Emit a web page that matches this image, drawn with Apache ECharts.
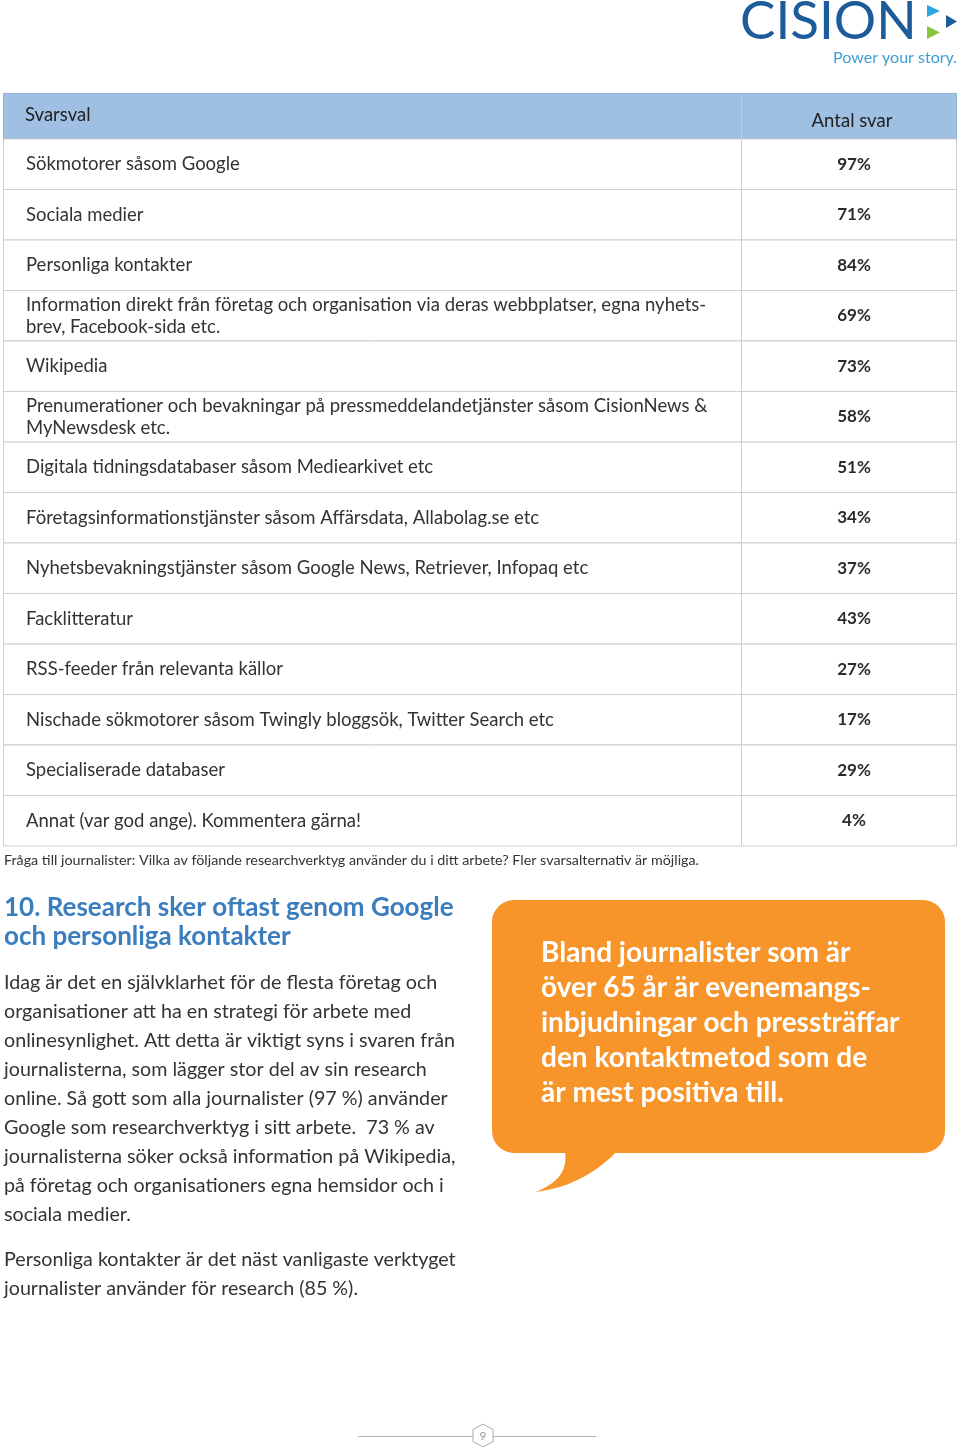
<!DOCTYPE html>
<html>
<head>
<meta charset="utf-8">
<script src="https://cdn.jsdelivr.net/npm/echarts@6/dist/echarts.min.js"></script>
<style>
  html, body { margin: 0; padding: 0; background: #ffffff; }
  #chart { width: 960px; height: 1450px; }
</style>
</head>
<body>
<div id="chart"></div>
<script>
// svarsalternativ (rader i tabellen)
const answers = [
  'Sökmotorer såsom Google',
  'Sociala medier',
  'Personliga kontakter',
  'Information direkt från företag och organisation via deras webbplatser, egna nyhets-\nbrev, Facebook-sida etc.',
  'Wikipedia',
  'Prenumerationer och bevakningar på pressmeddelandetjänster såsom CisionNews &\nMyNewsdesk etc.',
  'Digitala tidningsdatabaser såsom Mediearkivet etc',
  'Företagsinformationstjänster såsom Affärsdata, Allabolag.se etc',
  'Nyhetsbevakningstjänster såsom Google News, Retriever, Infopaq etc',
  'Facklitteratur',
  'RSS-feeder från relevanta källor',
  'Nischade sökmotorer såsom Twingly bloggsök, Twitter Search etc',
  'Specialiserade databaser',
  'Annat (var god ange). Kommentera gärna!'
]
// andel journalister (%)
const shares = [97, 71, 84, 69, 73, 58, 51, 34, 37, 43, 27, 17, 29, 4]
const headers = ['Svarsval', 'Antal svar']

const FONT = 'Lato, "Open Sans", sans-serif'
const TEXT = '#333333'
const LINE = '#cfcfcf'
const ORANGE = '#f7952b'

const chart = echarts.init(document.getElementById('chart'))

const bodyText = [
  'Idag är det en självklarhet för de flesta företag och',
  'organisationer att ha en strategi för arbete med',
  'onlinesynlighet. Att detta är viktigt syns i svaren från',
  'journalisterna, som lägger stor del av sin research',
  'online. Så gott som alla journalister (97 %) använder',
  'Google som researchverktyg i sitt arbete.  73 % av',
  'journalisterna söker också information på Wikipedia,',
  'på företag och organisationers egna hemsidor och i',
  'sociala medier.'
].join('\n')

// pratbubblans svans, punkter längs två bezierkurvor
function bezier (p0, p1, p2, p3, n) {
  const pts = []
  for (let i = 0; i <= n; i++) {
    const t = i / n
    const u = 1 - t
    pts.push([
      u * u * u * p0[0] + 3 * u * u * t * p1[0] + 3 * u * t * t * p2[0] + t * t * t * p3[0],
      u * u * u * p0[1] + 3 * u * u * t * p1[1] + 3 * u * t * t * p2[1] + t * t * t * p3[1]
    ])
  }
  return pts
}
const tail = bezier([564, 1148], [570, 1170], [557, 1184], [535, 1192], 16)
  .concat(bezier([535, 1192], [572, 1188], [600, 1170], [620, 1148], 16))

const option = {
  backgroundColor: '#ffffff',
  animation: false,
  grid: { left: 3, right: 3, top: 139, height: 707 },
  xAxis: { type: 'value', min: 0, max: 100, show: false },
  yAxis: { type: 'category', data: answers, inverse: true, show: false },
  series: [
    {
      type: 'custom',
      data: shares.map((v, i) => [v, i]),
      encode: { x: 0, y: 1 },
      renderItem: function (params, api) {
        const idx = api.value(1)
        const yc = api.coord([0, idx])[1]
        const h = api.size([0, 1])[1]
        const cs = params.coordSys
        const left = cs.x + 0.5
        const right = cs.x + cs.width - 0.5
        const mid = 741.5
        const top = yc - h / 2
        return {
          type: 'group',
          children: [
            {
              type: 'rect',
              shape: { x: left, y: top, width: mid - left, height: h },
              style: { fill: '#ffffff', stroke: LINE, lineWidth: 1 }
            },
            {
              type: 'rect',
              shape: { x: mid, y: top, width: right - mid, height: h },
              style: { fill: '#ffffff', stroke: LINE, lineWidth: 1 }
            },
            {
              type: 'text',
              x: 26,
              y: yc,
              style: {
                text: answers[idx],
                font: '18.5px ' + FONT,
                fill: TEXT,
                lineHeight: 22,
                verticalAlign: 'middle'
              }
            },
            {
              type: 'text',
              x: 854,
              y: yc,
              style: {
                text: api.value(0) + '%',
                font: 'bold 17px ' + FONT,
                fill: '#2b2b2b',
                align: 'center',
                verticalAlign: 'middle'
              }
            }
          ]
        }
      }
    }
  ],
  graphic: [
    // rubrikrad
    {
      type: 'rect',
      shape: { x: 3.5, y: 93.5, width: 953, height: 45.5 },
      style: { fill: '#9fc0e2', stroke: '#8cb0d6', lineWidth: 1 }
    },
    {
      type: 'line',
      shape: { x1: 741.5, y1: 93.5, x2: 741.5, y2: 139 },
      style: { stroke: '#b7d0ea', lineWidth: 1 }
    },
    {
      type: 'text', x: 25, y: 115,
      style: { text: headers[0], font: '18.5px ' + FONT, fill: '#222', verticalAlign: 'middle' }
    },
    {
      type: 'text', x: 852, y: 121,
      style: { text: headers[1], font: '18.5px ' + FONT, fill: '#222', align: 'center', verticalAlign: 'middle' }
    },
    // fråga under tabellen
    {
      type: 'text', x: 4, y: 860,
      style: {
        text: 'Fråga till journalister: Vilka av följande researchverktyg använder du i ditt arbete? Fler svarsalternativ är möjliga.',
        font: '14.3px ' + FONT, fill: TEXT, verticalAlign: 'middle'
      }
    },
    // logotyp
    {
      type: 'text', x: 740, y: 22,
      style: { text: 'CISION', font: '53px ' + FONT, fill: '#1d5c9b', verticalAlign: 'middle' }
    },
    {
      type: 'polygon',
      shape: { points: [[927, 5], [940, 11], [927, 17]] },
      style: { fill: '#2aa7df' }
    },
    {
      type: 'polygon',
      shape: { points: [[927, 26], [940, 32.5], [927, 39]] },
      style: { fill: '#8cc43f' }
    },
    {
      type: 'polygon',
      shape: { points: [[946, 15], [957, 21.5], [946, 28]] },
      style: { fill: '#1d5c9b' }
    },
    {
      type: 'text', x: 957, y: 58,
      style: { text: 'Power your story.', font: '16px ' + FONT, fill: '#3a9fd6', align: 'right', verticalAlign: 'middle' }
    },
    // rubrik och brödtext
    {
      type: 'text', x: 4, y: 922,
      style: {
        text: '10. Research sker oftast genom Google\noch personliga kontakter',
        font: 'bold 26px ' + FONT, fill: '#3b7dbd', lineHeight: 29, verticalAlign: 'middle'
      }
    },
    {
      type: 'text', x: 4, y: 1099,
      style: { text: bodyText, font: '19.7px ' + FONT, fill: TEXT, lineHeight: 29, verticalAlign: 'middle' }
    },
    {
      type: 'text', x: 4, y: 1274.5,
      style: {
        text: 'Personliga kontakter är det näst vanligaste verktyget\njournalister använder för research (85 %).',
        font: '19.7px ' + FONT, fill: TEXT, lineHeight: 29, verticalAlign: 'middle'
      }
    },
    // pratbubbla
    {
      type: 'rect',
      shape: { x: 492, y: 900, width: 453, height: 253, r: 22 },
      style: { fill: ORANGE }
    },
    {
      type: 'polygon',
      shape: { points: tail },
      style: { fill: ORANGE }
    },
    {
      type: 'text', x: 541, y: 1023,
      style: {
        text: 'Bland journalister som är\növer 65 år är evenemangs-\ninbjudningar och pressträffar\nden kontaktmetod som de\när mest positiva till.',
        font: 'bold 28px ' + FONT, fill: '#ffffff', lineHeight: 35, verticalAlign: 'middle'
      }
    },
    // sidnummer
    {
      type: 'line',
      shape: { x1: 358, y1: 1436.5, x2: 596, y2: 1436.5 },
      style: { stroke: '#b5b5b5', lineWidth: 1 }
    },
    {
      type: 'polygon',
      shape: { points: [[483, 1424], [493, 1429.5], [493, 1441.5], [483, 1447], [473, 1441.5], [473, 1429.5]] },
      style: { fill: '#ffffff', stroke: '#aaaaaa', lineWidth: 1 }
    },
    {
      type: 'text', x: 483, y: 1436,
      style: { text: '9', font: '12px ' + FONT, fill: '#999', align: 'center', verticalAlign: 'middle' }
    }
  ]
}

chart.setOption(option)
window.addEventListener('resize', function () {
  chart.resize()
})
</script>
</body>
</html>
